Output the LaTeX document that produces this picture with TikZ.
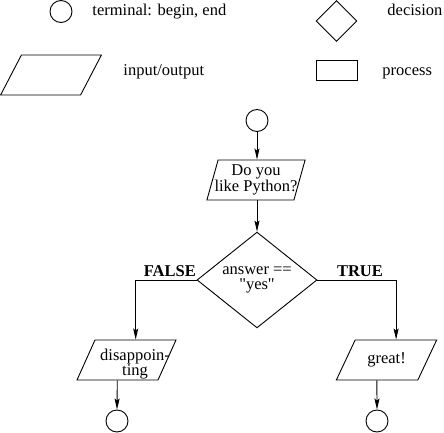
\documentclass[tikz,border=0pt]{standalone}
\usepackage{fontspec}
\setmainfont{Liberation Serif}[Ligatures=TeXOff]
\usetikzlibrary{shapes.geometric, arrows.meta, positioning}
\newcommand{\flowfont}{\fontsize{16.5pt}{15pt}\selectfont}
\tikzset{
terminal/.style={draw, circle, minimum size=22pt, inner sep=0pt},
decision/.style={draw, diamond, inner sep=0pt, align=center},
process/.style={draw, rectangle, minimum width=41pt, minimum height=20pt, inner sep=0pt},
io/.style={draw, rectangle, xslant=#1, minimum height=40pt, inner sep=0pt},
iotext/.style={inner sep=0pt, align=center},
legend/.style={anchor=base west, inner sep=0pt},
flow/.style={-{Stealth[length=11pt,width=5pt,inset=2pt]}},
branch/.style={font=\flowfont\bfseries, inner sep=2.5pt},
}
\begin{document}
\begin{tikzpicture}[x=1pt, y=-1pt, line width=0.9pt, font=\flowfont]
        \useasboundingbox (0,0) rectangle (444,433);
        % legend
        \node[terminal] (kterm) at (61,11.5) {};
        \node[legend] (lterm) at (92,16) {terminal: begin, end};
        \node[decision, minimum width=41pt, minimum height=41pt] (kdec) at (336.5,21) {};
        \node[legend] (ldec) at (387,16) {decision};
        \node[io=0.52, minimum width=80pt] (kio) at (51,75) {};
        \node[legend] (lio) at (123,76) {input/output};
        \node[process] (kproc) at (336.5,70) {};
        \node[legend] (lproc) at (382,76) {process};

        % flowchart
        \node[terminal] (start) at (257,120.5) {};
        \node[io=0.28, minimum width=87pt] (ask) at (256,180) {};
        \node[iotext] (asktxt) at (ask.center) {Do you\\like Python?};
        \node[decision, minimum width=120pt, minimum height=80pt] (test) at (257,280) {answer ==\\"yes"};
        \node[io=0.45, minimum width=81pt] (bad) at (126.5,360) {};
        \node[iotext] (badtxt) at (135,364) {disappoin-\\ting};
        \node[io=0.47, minimum width=81.5pt] (good) at (386.5,360) {};
        \node[iotext] (goodtxt) at (good.center) {great!};
        \node[terminal] (stopl) at (117,421) {};
        \node[terminal] (stopr) at (377,421) {};

        \draw[flow] (start.south) -- (start.south |- ask.north);
        \draw[flow] (test.north |- ask.south) -- (test.north);
        \draw[flow] (test.west) -| node[branch, pos=0.22, above] {FALSE} (bad.north);
        \draw[flow] (test.east) -| node[branch, pos=0.27, above] {TRUE} (good.north);
        \draw[flow] (bad.south) -- (stopl.north);
        \draw[flow] (good.south) -- (stopr.north);
\end{tikzpicture}
\end{document}
